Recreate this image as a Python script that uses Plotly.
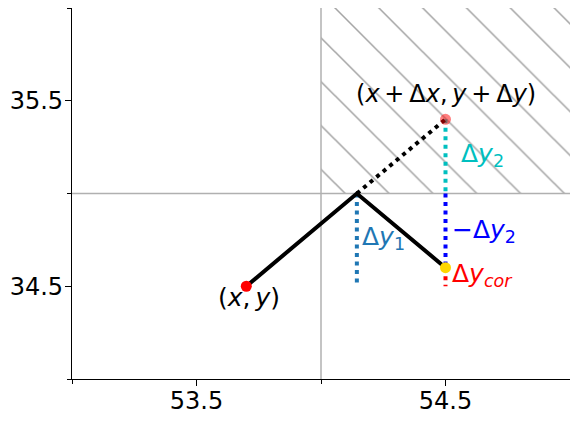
import plotly.graph_objects as go

# start point, end point and the corrected point
x0, y0 = 53.7, 34.5
x_end, y_end = 54.5, 35.4
x_cross, y_bound = 54.144, 35.0
x_bound = 54.0
y_cor = 34.6

# hatched (forbidden) region corners
hatch_x = [54.0, 55.0, 55.0, 54.0, 54.0]
hatch_y = [35.0, 35.0, 36.0, 36.0, 35.0]

x_range = [53.0, 55.0]
y_range = [34.0, 36.0]
x_major = [53.5, 54.5]
y_major = [34.5, 35.5]
x_minor = [53.0, 54.0, 55.0]
y_minor = [34.0, 35.0, 36.0]

FONT = "DejaVu Sans"
FS = 24
LW = 4
DOT = "4px,4.5px"
TS = "\u2009"  # thin space, closer to mathtext spacing

fig = go.Figure()

fig.add_trace(go.Scatter(
    x=hatch_x, y=hatch_y, mode="lines", fill="toself",
    fillcolor="rgba(0,0,0,0)", line=dict(width=0),
    fillpattern=dict(shape="\\", fgcolor="#4a4a4a", bgcolor="rgba(0,0,0,0)",
                     size=31, solidity=0.05),
    hoverinfo="skip"))

# reference lines at the boundaries
fig.add_trace(go.Scatter(x=[x_bound, x_bound], y=y_range, mode="lines",
                         line=dict(color="#b0b0b0", width=1.5)))
fig.add_trace(go.Scatter(x=x_range, y=[y_bound, y_bound], mode="lines",
                         line=dict(color="#b0b0b0", width=1.5)))

# vertical dotted components
fig.add_trace(go.Scatter(x=[x_cross, x_cross], y=[y_bound, y0], mode="lines",
                         line=dict(color="#1f77b4", width=LW, dash=DOT)))
fig.add_trace(go.Scatter(x=[x_end, x_end], y=[y_end, y_bound], mode="lines",
                         line=dict(color="#00bfbf", width=LW, dash=DOT)))
fig.add_trace(go.Scatter(x=[x_end, x_end], y=[y_bound, y_cor], mode="lines",
                         line=dict(color="#0000ff", width=LW, dash=DOT)))
fig.add_trace(go.Scatter(x=[x_end, x_end], y=[y_cor, y0], mode="lines",
                         line=dict(color="#ff0000", width=LW, dash=DOT)))

# unconstrained continuation
fig.add_trace(go.Scatter(x=[x_cross, x_end], y=[y_bound, y_end], mode="lines",
                         line=dict(color="black", width=LW, dash=DOT)))
# reflected path
fig.add_trace(go.Scatter(x=[x0, x_cross, x_end], y=[y0, y_bound, y_cor], mode="lines",
                         line=dict(color="black", width=LW)))

fig.add_trace(go.Scatter(x=[x0], y=[y0], mode="markers",
                         marker=dict(color="#ff0000", size=11)))
fig.add_trace(go.Scatter(x=[x_end], y=[y_cor], mode="markers",
                         marker=dict(color="#ffd700", size=11)))
fig.add_trace(go.Scatter(x=[x_end], y=[y_end], mode="markers",
                         marker=dict(color="rgba(255,0,0,0.5)", size=11)))

def label(x, y, text, color, xanchor="left", yanchor="middle", size=FS + 1):
    fig.add_annotation(x=x, y=y, text=text, showarrow=False,
                       xanchor=xanchor, yanchor=yanchor,
                       font=dict(family=FONT, size=size, color=color))

label(x_end, 35.45,
      f"(<i>x</i>{TS}+{TS}Δ<i>x</i>,{TS}<i>y</i>{TS}+{TS}Δ<i>y</i>)",
      "black", "center", "bottom", size=FS)
label(x0 + 0.01, 34.53, f"(<i>x</i>,{TS}<i>y</i>)", "black", "center", "top")
label(54.155, 34.76, "Δ<i>y</i><sub>1</sub>", "#1f77b4")
label(54.555, 35.21, "Δ<i>y</i><sub>2</sub>", "#00bfbf")
label(54.52, 34.8, "−Δ<i>y</i><sub>2</sub>", "#0000ff")
label(54.52, 34.56, "Δ<i>y</i><sub><i>cor</i></sub>", "#ff0000")

axis_common = dict(showgrid=False, zeroline=False, showline=True, mirror=True,
                   linecolor="black", linewidth=1.3, ticks="outside",
                   ticklen=6, tickwidth=1.3, tickcolor="black",
                   tickfont=dict(family=FONT, size=FS, color="black"),
                   tickmode="array",
                   minor=dict(ticks="outside", ticklen=3.5, tickwidth=1.1,
                              tickcolor="black", showgrid=False))

fig.update_xaxes(range=x_range, tickvals=x_major, ticktext=[str(v) for v in x_major],
                 ticklabelstandoff=-6, **axis_common)
fig.update_xaxes(minor_tickvals=x_minor)
fig.update_yaxes(range=y_range, tickvals=y_major, ticktext=[str(v) for v in y_major],
                 ticklabelstandoff=-3, **axis_common)
fig.update_yaxes(minor_tickvals=y_minor)

# page body adds 8px, so the plot box is offset to match
fig.update_layout(
    width=578, height=422,
    margin=dict(l=64, r=16, t=0, b=51),
    paper_bgcolor="white", plot_bgcolor="white",
    showlegend=False,
)

fig.write_html("out.html")
